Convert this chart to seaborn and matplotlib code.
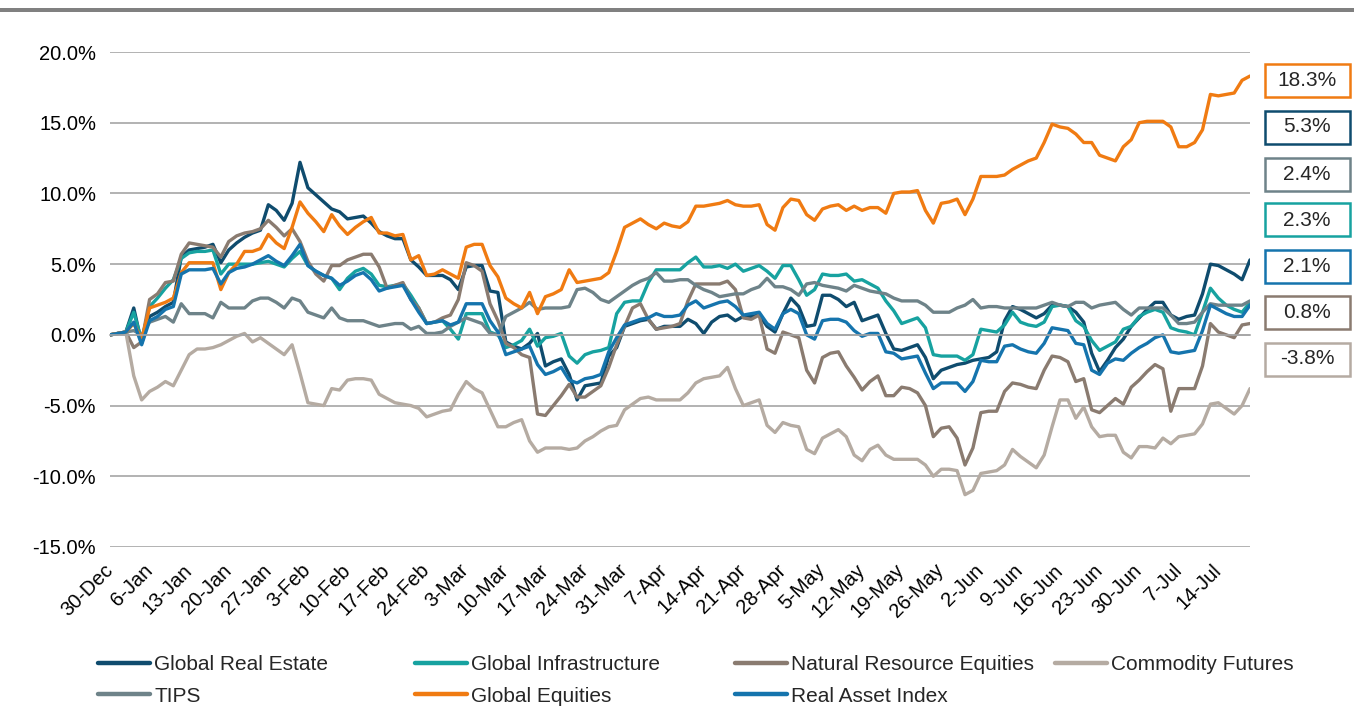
import pandas as pd
import matplotlib
matplotlib.use('Agg')
import matplotlib.pyplot as plt
import seaborn as sns
from matplotlib.lines import Line2D
from matplotlib.patches import Rectangle
from matplotlib.ticker import FuncFormatter
from matplotlib.transforms import ScaledTranslation

### Cumulative total return (%) by asset class, one value per business day from 30-Dec ###

global_real_estate = [
    0, 0.1, 0.2, 1.9, -0.6, 1.3, 1.6, 2.0, 2.3, 5.5,
    6.0, 6.1, 6.2, 6.4, 5.1, 6.0, 6.5, 6.9, 7.2, 7.4,
    9.2, 8.8, 8.1, 9.3, 12.2, 10.4, 9.9, 9.4, 8.9, 8.7,
    8.2, 8.3, 8.4, 7.9, 7.3, 7.0, 6.8, 6.8, 5.3, 4.8,
    4.2, 4.2, 4.2, 3.9, 3.2, 4.8, 4.9, 4.9, 3.1, 3.0,
    -0.5, -0.8, -1.0, -0.6, 0.1, -2.2, -1.9, -1.7, -2.8, -4.6,
    -3.6, -3.5, -3.4, -1.5, -0.9, 0.6, 0.8, 1.0, 1.1, 0.4,
    0.6, 0.6, 0.6, 1.1, 0.8, 0.1, 0.9, 1.3, 1.4, 1.0,
    1.3, 1.3, 1.4, 0.6, 0.2, 1.5, 2.6, 2.0, 0.6, 0.7,
    2.8, 2.8, 2.5, 2.0, 2.3, 1.0, 1.2, 1.4, 0.1, -1.0,
    -1.1, -0.9, -0.7, -1.6, -3.1, -2.5, -2.3, -2.1, -2.0, -1.8,
    -1.7, -1.6, -1.2, 1.0, 2.0, 1.8, 1.5, 1.2, 1.5, 2.1,
    2.1, 2.0, 1.6, 0.9, -1.3, -2.6, -1.8, -0.9, -0.3, 0.6,
    1.2, 1.8, 2.3, 2.3, 1.4, 1.1, 1.3, 1.4, 2.9, 5.0,
    4.9, 4.6, 4.3, 3.9, 5.3,
]

global_infrastructure = [
    0, 0.1, 0.2, 1.6, -0.4, 2.0, 2.6, 3.3, 3.9, 5.4,
    5.8, 5.9, 5.9, 6.0, 4.3, 5.0, 5.0, 5.0, 5.0, 5.1,
    5.2, 5.0, 4.8, 5.4, 5.9, 4.9, 4.5, 4.2, 4.0, 3.2,
    4.0, 4.5, 4.7, 4.3, 3.5, 3.4, 3.5, 3.6, 2.8, 1.9,
    0.8, 0.9, 1.0, 0.4, -0.3, 1.5, 1.5, 1.5, 0.2, 0.0,
    -0.9, -0.7, -0.4, 0.4, -0.8, -0.2, -0.1, 0.1, -1.5, -2.0,
    -1.4, -1.2, -1.1, -0.9, 1.5, 2.3, 2.4, 2.4, 3.7, 4.6,
    4.6, 4.6, 4.6, 5.1, 5.5, 4.8, 4.8, 4.9, 4.7, 5.0,
    4.5, 4.7, 4.9, 4.5, 4.0, 4.9, 4.9, 3.9, 2.8, 3.2,
    4.3, 4.2, 4.2, 4.3, 3.8, 3.9, 3.6, 3.3, 2.4, 1.7,
    0.8, 1.0, 1.2, 0.5, -1.4, -1.5, -1.5, -1.5, -1.8, -1.4,
    0.4, 0.3, 0.2, 0.7, 1.6, 0.9, 0.7, 0.6, 0.9, 2.0,
    2.1, 2.0, 1.0, 0.6, -0.4, -1.1, -0.8, -0.5, 0.4, 0.6,
    1.3, 1.6, 1.8, 1.6, 0.5, 0.3, 0.2, 0.0, 1.6, 3.3,
    2.6, 2.1, 1.8, 1.6, 2.3,
]

natural_resource_equities = [
    0, 0.1, 0.2, -0.9, -0.5, 2.5, 2.9, 3.7, 3.8, 5.7,
    6.5, 6.4, 6.3, 6.2, 5.5, 6.6, 7.0, 7.2, 7.3, 7.5,
    8.1, 7.6, 7.0, 7.5, 6.6, 5.2, 4.3, 3.8, 4.9, 4.9,
    5.3, 5.5, 5.7, 5.7, 4.8, 3.3, 3.5, 3.7, 2.5, 1.9,
    0.8, 0.9, 1.2, 1.4, 2.5, 5.1, 4.9, 4.5, 2.2, 1.0,
    -0.6, -0.9, -1.4, -1.6, -5.6, -5.7, -5.0, -4.3, -3.5, -4.4,
    -4.4, -4.0, -3.6, -2.3, -0.7, 0.6, 1.9, 2.2, 1.1, 0.4,
    0.5, 0.6, 0.8, 2.4, 3.6, 3.6, 3.6, 3.6, 3.8, 3.2,
    1.2, 1.1, 1.4, -1.0, -1.3, 0.2, 0.0, -0.2, -2.5, -3.4,
    -1.6, -1.3, -1.2, -2.2, -3.0, -3.9, -3.3, -2.9, -4.3, -4.3,
    -3.7, -3.8, -4.1, -5.0, -7.2, -6.6, -6.5, -7.3, -9.2, -8.0,
    -5.5, -5.4, -5.4, -4.0, -3.4, -3.5, -3.7, -3.8, -2.5, -1.5,
    -1.6, -1.9, -3.3, -3.1, -5.3, -5.5, -5.0, -4.5, -4.9, -3.7,
    -3.2, -2.6, -2.1, -2.4, -5.4, -3.8, -3.8, -3.8, -2.2, 0.8,
    0.2, 0.0, -0.2, 0.7, 0.8,
]

commodity_futures = [
    0, 0.1, 0.2, -2.9, -4.6, -4.0, -3.7, -3.3, -3.6, -2.5,
    -1.4, -1.0, -1.0, -0.9, -0.7, -0.4, -0.1, 0.1, -0.5, -0.2,
    -0.6, -1.0, -1.4, -0.7, -2.7, -4.8, -4.9, -5.0, -3.8, -3.9,
    -3.2, -3.1, -3.1, -3.2, -4.2, -4.5, -4.8, -4.9, -5.0, -5.2,
    -5.8, -5.6, -5.4, -5.3, -4.2, -3.3, -3.8, -4.1, -5.3, -6.5,
    -6.5, -6.2, -6.0, -7.5, -8.3, -8.0, -8.0, -8.0, -8.1, -8.0,
    -7.5, -7.2, -6.8, -6.5, -6.4, -5.3, -4.9, -4.5, -4.4, -4.6,
    -4.6, -4.6, -4.6, -4.1, -3.4, -3.1, -3.0, -2.9, -2.3, -3.8,
    -5.0, -4.8, -4.6, -6.4, -6.9, -6.2, -6.4, -6.5, -8.1, -8.4,
    -7.3, -7.0, -6.7, -7.2, -8.5, -8.9, -8.1, -7.8, -8.5, -8.8,
    -8.8, -8.8, -8.8, -9.2, -10.0, -9.5, -9.5, -9.6, -11.3, -11.0,
    -9.8, -9.7, -9.6, -9.2, -8.1, -8.6, -9.0, -9.4, -8.5, -6.5,
    -4.6, -4.6, -5.9, -5.1, -6.5, -7.2, -7.1, -7.1, -8.3, -8.7,
    -7.9, -7.9, -8.0, -7.3, -7.7, -7.2, -7.1, -7.0, -6.3, -4.9,
    -4.8, -5.2, -5.6, -5.0, -3.8,
]

tips = [
    0, 0.1, 0.2, 0.3, 0.0, 0.9, 1.1, 1.3, 0.9, 2.2,
    1.5, 1.5, 1.5, 1.2, 2.3, 1.9, 1.9, 1.9, 2.4, 2.6,
    2.6, 2.3, 1.9, 2.6, 2.4, 1.6, 1.4, 1.2, 1.9, 1.2,
    1.0, 1.0, 1.0, 0.8, 0.6, 0.7, 0.8, 0.8, 0.4, 0.6,
    0.1, 0.1, 0.2, 0.6, 0.9, 1.2, 1.0, 0.8, 0.1, 0.0,
    1.3, 1.6, 1.9, 2.3, 1.8, 1.9, 1.9, 1.9, 2.0, 3.2,
    3.3, 3.0, 2.5, 2.3, 2.7, 3.1, 3.5, 3.8, 4.0, 4.4,
    3.8, 3.8, 3.9, 3.9, 3.5, 3.2, 3.0, 2.7, 2.8, 2.9,
    2.9, 3.2, 3.4, 4.0, 3.4, 3.4, 3.2, 2.8, 3.6, 3.7,
    3.5, 3.4, 3.3, 3.1, 3.5, 3.3, 3.1, 3.0, 2.9, 2.6,
    2.4, 2.4, 2.4, 2.1, 1.6, 1.6, 1.6, 1.9, 2.1, 2.5,
    1.9, 2.0, 2.0, 1.9, 1.9, 1.9, 1.9, 1.9, 2.1, 2.3,
    2.1, 2.0, 2.3, 2.3, 1.9, 2.1, 2.2, 2.3, 1.8, 1.4,
    1.9, 1.9, 1.9, 1.9, 1.4, 0.8, 0.8, 0.9, 1.6, 2.2,
    2.1, 2.1, 2.1, 2.1, 2.4,
]

global_equities = [
    0, 0.1, 0.2, 0.8, -0.3, 1.9, 2.1, 2.3, 2.6, 4.4,
    5.1, 5.1, 5.1, 5.1, 3.2, 4.4, 5.0, 5.9, 5.9, 6.1,
    7.1, 6.5, 6.1, 7.6, 9.4, 8.6, 8.0, 7.3, 8.5, 7.7,
    7.1, 7.6, 8.0, 8.3, 7.2, 7.2, 7.0, 7.1, 5.3, 5.6,
    4.2, 4.3, 4.6, 4.3, 4.0, 6.2, 6.4, 6.4, 4.9, 4.1,
    2.6, 2.2, 1.9, 3.0, 1.5, 2.7, 2.9, 3.2, 4.6, 3.7,
    3.8, 3.9, 4.0, 4.4, 5.9, 7.6, 7.9, 8.2, 7.8, 7.5,
    7.9, 7.7, 7.6, 8.0, 9.1, 9.1, 9.2, 9.3, 9.5, 9.2,
    9.1, 9.1, 9.2, 7.8, 7.4, 9.0, 9.6, 9.5, 8.5, 8.1,
    8.9, 9.1, 9.2, 8.8, 9.1, 8.8, 9.0, 9.0, 8.6, 10.0,
    10.1, 10.1, 10.2, 8.8, 7.9, 9.3, 9.4, 9.6, 8.5, 9.6,
    11.2, 11.2, 11.2, 11.3, 11.7, 12.0, 12.3, 12.5, 13.6, 14.9,
    14.7, 14.6, 14.2, 13.6, 13.6, 12.7, 12.5, 12.3, 13.3, 13.8,
    15.0, 15.1, 15.1, 15.1, 14.7, 13.3, 13.3, 13.6, 14.5, 17.0,
    16.9, 17.0, 17.1, 18.0, 18.3,
]

real_asset_index = [
    0, 0.1, 0.2, 0.9, -0.7, 1.0, 1.3, 1.8, 2.0, 4.3,
    4.6, 4.6, 4.6, 4.7, 3.6, 4.4, 4.7, 4.8, 5.0, 5.3,
    5.6, 5.2, 4.9, 5.6, 6.4, 4.9, 4.5, 4.2, 4.0, 3.5,
    3.8, 4.2, 4.4, 3.9, 3.1, 3.3, 3.4, 3.5, 2.5, 1.6,
    0.8, 0.9, 1.0, 0.7, 0.9, 2.2, 2.2, 2.2, 1.0, 0.2,
    -1.4, -1.2, -1.0, -0.8, -2.1, -2.8, -2.6, -2.3, -3.2, -3.4,
    -3.1, -3.0, -2.8, -1.2, -0.2, 0.7, 0.9, 1.1, 1.2, 1.5,
    1.3, 1.3, 1.4, 2.1, 2.4, 1.9, 2.1, 2.3, 2.4, 2.0,
    1.4, 1.5, 1.6, 0.8, 0.4, 1.5, 1.8, 1.5, 0.0, -0.3,
    1.0, 1.1, 1.1, 0.9, 0.3, -0.1, 0.1, 0.1, -1.2, -1.3,
    -1.7, -1.6, -1.5, -2.7, -3.8, -3.4, -3.4, -3.4, -4.0, -3.3,
    -1.8, -1.9, -1.9, -0.8, -0.7, -1.0, -1.2, -1.3, -0.6, 0.5,
    0.4, 0.3, -0.6, -0.7, -2.5, -2.8, -2.0, -1.7, -1.8, -1.3,
    -0.9, -0.6, -0.2, 0.0, -1.2, -1.3, -1.2, -1.1, 0.3, 2.1,
    1.8, 1.5, 1.3, 1.3, 2.1,
]

series_names = ['Global Real Estate', 'Global Infrastructure', 'Natural Resource Equities',
                'Commodity Futures', 'TIPS', 'Global Equities', 'Real Asset Index']
series_values = [global_real_estate, global_infrastructure, natural_resource_equities,
                 commodity_futures, tips, global_equities, real_asset_index]
series_colors = ['#0F4C6E', '#17A2A0', '#8A7B70', '#B5ABA2', '#6E8389', '#F07B12', '#1574AD']

n_days = len(global_real_estate)
dates = pd.bdate_range('2024-12-30', periods=n_days)
tick_pos = list(range(0, n_days, 5))
tick_labels = [f"{d.day}-{d:%b}" for d in dates[::5]]

# long format for seaborn
wide = pd.DataFrame(dict(zip(series_names, series_values)))
wide['day'] = range(n_days)
df = wide.melt(id_vars='day', var_name='series', value_name='ret')

sns.set_style('white')
plt.rcParams['font.family'] = ['Liberation Sans', 'DejaVu Sans']

W, H = 1354, 707
fig = plt.figure(figsize=(W / 100, H / 100), dpi=100)
ax = fig.add_axes([110 / W, 1 - 547 / H, 1140 / W, 495 / H])

sns.lineplot(data=df, x='day', y='ret', hue='series', hue_order=series_names,
             palette=dict(zip(series_names, series_colors)), linewidth=2.4,
             errorbar=None, legend=False, ax=ax)

ax.set_xlim(0, n_days - 1)
ax.set_ylim(-15, 20)
ax.set_yticks(range(-15, 21, 5))
ax.yaxis.set_major_formatter(FuncFormatter(lambda v, _: f"{v:.1f}%"))
ax.set_xlabel('')
ax.set_ylabel('')
ax.yaxis.grid(True, color='#A6A6A6', linewidth=1.2)
ax.xaxis.grid(False)
ax.set_axisbelow(True)
for s in ['left', 'right', 'top']:
    ax.spines[s].set_visible(False)
ax.spines['bottom'].set_position(('data', 0))
ax.spines['bottom'].set_color('#A6A6A6')
ax.spines['bottom'].set_linewidth(1.2)

ax.set_xticks(tick_pos)
ax.set_xticklabels(tick_labels)
ax.tick_params(axis='x', length=4.5, width=1, color='#A6A6A6', direction='out',
               pad=158, labelsize=14.5, labelcolor='black')
shift = ScaledTranslation(-0.07, 0, fig.dpi_scale_trans)
for lab in ax.get_xticklabels():
    lab.set_rotation(45)
    lab.set_ha('right')
    lab.set_rotation_mode('anchor')
    lab.set_transform(lab.get_transform() + shift)
ax.tick_params(axis='y', length=0, pad=10, labelsize=14.5, labelcolor='black')

# grey rule across the top
fig.add_artist(Rectangle((0, 1 - 12 / H), 1, 4 / H, transform=fig.transFigure,
                         color='#808080', lw=0))

# end-value boxes, sorted by last value
finals = sorted(zip(series_names, [v[-1] for v in series_values], series_colors),
                key=lambda t: -t[1])
box_y = [80, 127, 174, 220, 266, 312, 359]
bw, bh, bx = 85, 33, 1307
for (name, val, col), yc in zip(finals, box_y):
    fig.add_artist(Rectangle(((bx - bw / 2) / W, 1 - (yc + bh / 2) / H), bw / W, bh / H,
                             transform=fig.transFigure, facecolor='white',
                             edgecolor=col, lw=1.8))
    fig.text(bx / W, 1 - yc / H, f"{val:.1f}%", ha='center', va='center', fontsize=15)

# legend laid out in four fixed-width columns
handles = {n: Line2D([], [], color=c, lw=3.2) for n, c in zip(series_names, series_colors)}
columns = [['Global Real Estate', 'TIPS'], ['Global Infrastructure', 'Global Equities'],
           ['Natural Resource Equities', 'Real Asset Index'], ['Commodity Futures']]
col_x = [98, 415, 735, 1055]
for names, x in zip(columns, col_x):
    fig.legend([handles[n] for n in names], names, loc='upper left',
               bbox_to_anchor=(x / W, 1 - 655 / H), frameon=False, fontsize=15,
               handlelength=2.5, handletextpad=0.2, labelspacing=0.6,
               borderpad=0, borderaxespad=0)

fig.savefig('out.png', dpi=100)
plt.close()
